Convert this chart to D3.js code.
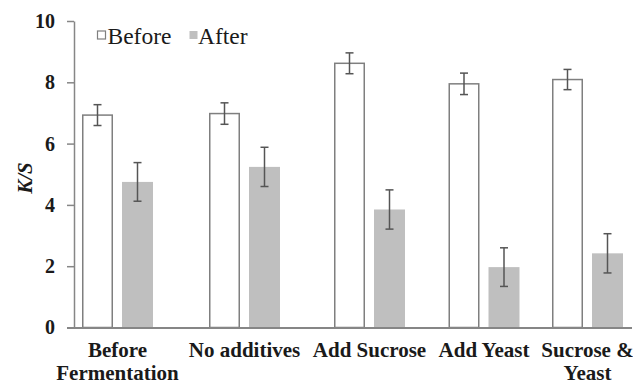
<!DOCTYPE html>
<html>
<head>
<meta charset="utf-8">
<script src="https://cdn.jsdelivr.net/npm/d3@7"></script>
<style>
  html, body { margin: 0; padding: 0; background: #fff; }
  svg { display: block; }
</style>
</head>
<body>
<svg id="chart" width="633" height="383"></svg>
<script>
// ---- data ----
const categories = [["Before", "Fermentation"], ["No additives"], ["Add Sucrose"], ["Add Yeast"], ["Sucrose &", "Yeast"]];
const seriesNames = ["Before", "After"];
const beforeValues = [6.93, 6.98, 8.62, 7.95, 8.09];
const beforeErrors = [0.34, 0.35, 0.34, 0.35, 0.33];
const afterValues = [4.75, 5.24, 3.85, 1.97, 2.42];
const afterErrors = [0.63, 0.64, 0.64, 0.63, 0.64];
const yTicks = [0, 2, 4, 6, 8, 10];

// ---- layout ----
const svg = d3.select("#chart");
const axisX = 74, axisY = 327.5, topY = 21, rightX = 632;
const groupCenters = [117.5, 244.5, 369.5, 484, 587.5];
const serif = "'Liberation Serif', 'Times New Roman', serif";

const y = d3.scaleLinear().domain([0, 10]).range([axisY, topY]);
const x = d3.scaleLinear().domain(d3.range(categories.length)).range(groupCenters);
const sub = d3.scaleBand().domain(seriesNames).range([-35.5, 35.5]).paddingInner(0.225);

const data = categories.map((c, i) => ({
  i,
  items: [
    { s: "Before", v: beforeValues[i], e: beforeErrors[i] },
    { s: "After", v: afterValues[i], e: afterErrors[i] }
  ]
}));

// bars
const g = svg.append("g");
const groups = g.selectAll("g.grp").data(data).join("g")
  .attr("transform", d => `translate(${x(d.i)},0)`);

groups.selectAll("rect").data(d => d.items).join("rect")
  .attr("x", d => sub(d.s) + (d.s === "Before" ? 0.75 : 0))
  .attr("width", d => sub.bandwidth() - (d.s === "Before" ? 1.5 : 0))
  .attr("y", d => y(d.v))
  .attr("height", d => y(0) - y(d.v))
  .attr("fill", d => d.s === "Before" ? "#ffffff" : "#bfbfbf")
  .attr("stroke", d => d.s === "Before" ? "#7f7f7f" : "none")
  .attr("stroke-width", 1.5);

// error bars
const eb = groups.selectAll("g.err").data(d => d.items).join("g")
  .attr("class", "err")
  .attr("transform", d => `translate(${sub(d.s) + sub.bandwidth() / 2},0)`)
  .attr("stroke", "#555")
  .attr("stroke-width", 1.5);
eb.append("line").attr("x1", 0).attr("x2", 0)
  .attr("y1", d => y(d.v + d.e)).attr("y2", d => y(d.v - d.e));
eb.append("line").attr("x1", -4).attr("x2", 4)
  .attr("y1", d => y(d.v + d.e)).attr("y2", d => y(d.v + d.e));
eb.append("line").attr("x1", -4).attr("x2", 4)
  .attr("y1", d => y(d.v - d.e)).attr("y2", d => y(d.v - d.e));

// y axis
const yAxis = svg.append("g")
  .attr("transform", `translate(${axisX},0)`)
  .call(d3.axisLeft(y).tickValues(yTicks).tickSize(7).tickPadding(12).tickSizeOuter(0));
yAxis.select(".domain").attr("stroke", "#868686").attr("stroke-width", 1.5);
yAxis.selectAll(".tick line").attr("stroke", "#868686").attr("stroke-width", 1.5);
yAxis.selectAll(".tick text")
  .attr("font-family", serif).attr("font-weight", "bold")
  .attr("font-size", 20).attr("fill", "#1a1a1a");

// x axis line
svg.append("line")
  .attr("x1", axisX - 7).attr("x2", rightX)
  .attr("y1", axisY + 0.5).attr("y2", axisY + 0.5)
  .attr("stroke", "#868686").attr("stroke-width", 2);

// category labels
const labels = svg.append("g").selectAll("text").data(categories).join("text")
  .attr("text-anchor", "middle")
  .attr("font-family", serif).attr("font-weight", "bold")
  .attr("font-size", 21).attr("fill", "#1a1a1a");
labels.selectAll("tspan").data((d, i) => d.map(t => ({ t, i }))).join("tspan")
  .attr("x", d => x(d.i))
  .attr("y", (d, j) => 357 + j * 22.5)
  .text(d => d.t);

// y axis title
svg.append("text")
  .attr("transform", "translate(32,178) rotate(-90)")
  .attr("text-anchor", "middle")
  .attr("font-family", serif).attr("font-weight", "bold").attr("font-style", "italic")
  .attr("font-size", 21).attr("fill", "#1a1a1a")
  .text("K/S");

// legend
const legend = svg.append("g");
const legendItems = [
  { s: seriesNames[0], sx: 97.5, tx: 107.5, fill: "#ffffff", stroke: "#7f7f7f" },
  { s: seriesNames[1], sx: 189.5, tx: 198, fill: "#bfbfbf", stroke: "none" }
];
legend.selectAll("rect").data(legendItems).join("rect")
  .attr("x", d => d.sx).attr("y", 31).attr("width", 8).attr("height", 8)
  .attr("fill", d => d.fill).attr("stroke", d => d.stroke).attr("stroke-width", 1.2);
legend.selectAll("text").data(legendItems).join("text")
  .attr("x", d => d.tx).attr("y", 43.5)
  .attr("font-family", serif).attr("font-size", 23.5).attr("fill", "#1a1a1a")
  .text(d => d.s);
</script>
</body>
</html>
